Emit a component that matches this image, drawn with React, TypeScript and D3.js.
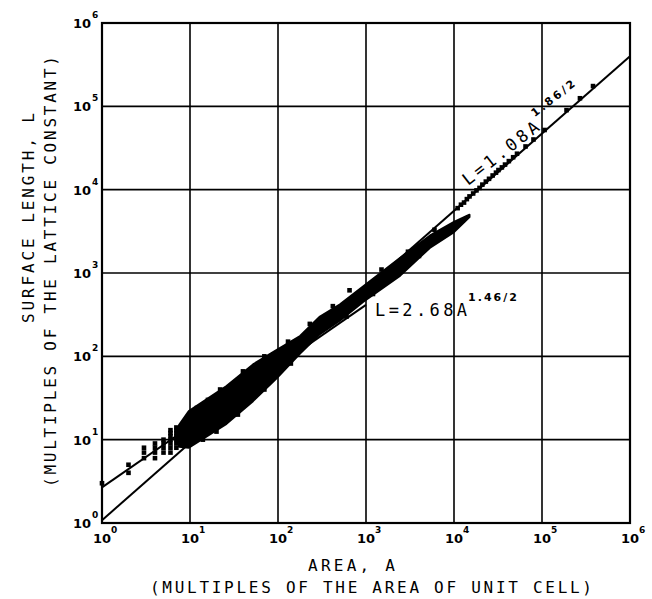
import React from 'react';
import * as d3 from 'd3';

// decades on both axes
const decades = [1, 10, 100, 1000, 1e4, 1e5, 1e6];
const exponents = ['0', '1', '2', '3', '4', '5', '6'];

// dense part of the scatter, read as upper/lower edges of the band
const bandA = [7.5, 9.7, 26, 52, 97, 178, 300, 507, 925, 2450, 5300, 1.0e4, 1.5e4];
const bandHi = [15, 22, 44, 80, 120, 175, 300, 420, 690, 1520, 2800, 4100, 5000];
const bandLo = [8.2, 8.0, 15.5, 29, 55, 108, 185, 270, 450, 930, 2000, 3100, 4700];

// single clusters at small areas, ragged edges of the band and the sparse tail
const pointA = [1, 2, 2, 3, 3, 3, 4, 4, 4, 4, 5, 5, 5, 5, 6, 6, 6, 6, 6, 6, 6, 7, 7, 7, 7, 7, 7, 7,
  12, 16, 22, 40, 70, 130, 230, 420, 650, 1500, 3000, 6000,
  14, 20, 35, 70, 140, 600, 1200, 4000,
  1.1e4, 1.2e4, 1.3e4, 1.4e4, 1.5e4, 1.65e4, 1.8e4, 1.95e4, 2.1e4, 2.3e4, 2.5e4, 2.75e4, 3.0e4, 3.2e4,
  3.5e4, 3.8e4, 4.2e4, 4.7e4, 5.2e4, 6.5e4, 8.0e4, 1.07e5, 1.9e5, 2.7e5, 3.8e5];
const pointL = [3, 4, 5, 6, 7, 8, 6, 7, 8, 9, 7, 8, 9, 10, 7, 8, 9, 10, 11, 12, 13, 8, 9, 10, 11, 12, 13, 14,
  24, 30, 40, 66, 100, 150, 245, 400, 620, 1100, 1800, 3300,
  10, 12.5, 20, 40, 82, 300, 560, 1600,
  6000, 6600, 7000, 7700, 8300, 9000, 9800, 10500, 11500, 12500, 13500, 14800, 16000, 17200,
  18500, 20000, 22000, 24500, 27000, 33000, 40000, 52000, 90000, 125000, 175000];

// fitted power laws, end points
const fit1A = [1, 1000];
const fit1L = [2.68, 415];
const fit2A = [1, 1e6];
const fit2L = [1.08, 400000];

const mono = '"DejaVu Sans Mono", monospace';
const sans = '"DejaVu Sans", sans-serif';

export default function App() {
  const x = d3.scaleLog().domain([1, 1e6]).range([102, 630]);
  const y = d3.scaleLog().domain([1, 1e6]).range([523, 23]);

  const band = bandA.map((a, i) => ({ a, lo: bandLo[i], hi: bandHi[i] }));
  const area = d3.area<any>()
    .x((d) => x(d.a))
    .y0((d) => y(d.lo))
    .y1((d) => y(d.hi));

  const fitPath = (as: number[], ls: number[]) =>
    d3.line<number>().x((d) => x(d)).y((_, i) => y(ls[i]))(as);

  return (
    <svg width={652} height={599} style={{ position: 'absolute', left: 0, top: 0 }}>
      <rect width={652} height={599} fill="#fff" />
      {/* grid */}
      {decades.map((v) => (
        <g key={'g' + v}>
          <line x1={x(v)} x2={x(v)} y1={23} y2={523} stroke="#000" strokeWidth={1.6} />
          <line x1={102} x2={630} y1={y(v)} y2={y(v)} stroke="#000" strokeWidth={1.6} />
        </g>
      ))}
      <rect x={102} y={23} width={528} height={500} fill="none" stroke="#000" strokeWidth={2.2} />

      {/* data */}
      <path d={area(band) || ''} fill="#000" stroke="#000" strokeWidth={2} strokeLinejoin="round" />
      {pointA.map((a, i) => (
        <rect key={'p' + i} x={x(a) - 2.3} y={y(pointL[i]) - 2.3} width={4.6} height={4.6} fill="#000" />
      ))}
      <path d={fitPath(fit1A, fit1L) || ''} fill="none" stroke="#000" strokeWidth={2} />
      <path d={fitPath(fit2A, fit2L) || ''} fill="none" stroke="#000" strokeWidth={2} />

      {/* tick labels */}
      {decades.map((v, i) => (
        <g key={'t' + v} fontFamily={sans} fontWeight="bold" fill="#000">
          <text x={91} y={y(v) + 5} fontSize={13} textAnchor="end">10</text>
          <text x={92} y={y(v) - 5} fontSize={9}>{exponents[i]}</text>
          <text x={x(v)} y={543} fontSize={13} textAnchor="middle">10</text>
          <text x={x(v) + 9} y={533} fontSize={9}>{exponents[i]}</text>
        </g>
      ))}

      {/* axis titles */}
      <text x={308} y={571} fontFamily={mono} fontSize={16} textLength={87} lengthAdjust="spacing">AREA, A</text>
      <text x={150} y={593} fontFamily={mono} fontSize={16} textLength={442} lengthAdjust="spacing">(MULTIPLES OF THE AREA OF UNIT CELL)</text>
      <text transform="translate(34,323) rotate(-90)" fontFamily={mono} fontSize={16} textLength={210} lengthAdjust="spacing">SURFACE LENGTH, L</text>
      <text transform="translate(56,487) rotate(-90)" fontFamily={mono} fontSize={16} textLength={431} lengthAdjust="spacing">(MULTIPLES OF THE LATTICE CONSTANT)</text>

      {/* fit labels */}
      <text x={375} y={316} fontFamily={mono} fontSize={17} textLength={92} lengthAdjust="spacing">L=2.68A</text>
      <text x={468} y={301} fontFamily={sans} fontWeight="bold" fontSize={11} textLength={49} lengthAdjust="spacing">1.46/2</text>
      <g transform="translate(468,186) rotate(-38)">
        <text x={0} y={0} fontFamily={mono} fontSize={17} textLength={92} lengthAdjust="spacing">L=1.08A</text>
        <text x={95} y={-13} fontFamily={sans} fontWeight="bold" fontSize={11} textLength={52} lengthAdjust="spacing">1.86/2</text>
      </g>
    </svg>
  );
}
